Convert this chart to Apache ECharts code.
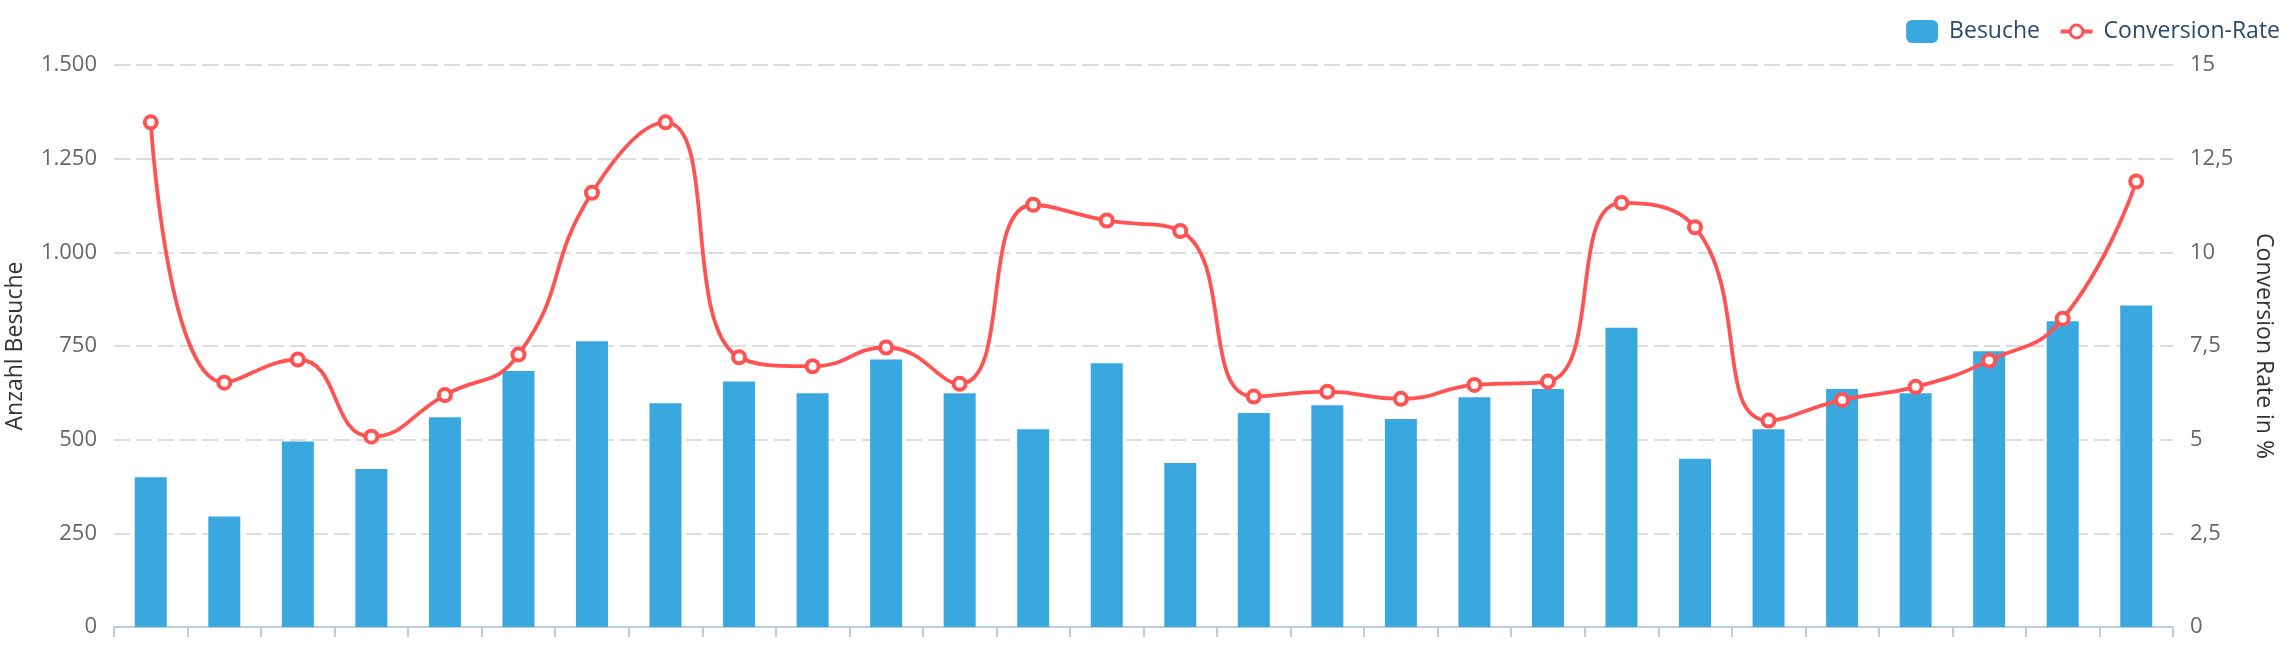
<!DOCTYPE html>
<html>
<head>
<meta charset="utf-8">
<style>
    html, body {margin: 0; padding: 0; background: #fff;}
    #chart {width: 2294px; height: 646px;}
</style>
<script src="https://cdn.jsdelivr.net/npm/echarts@6/dist/echarts.min.js"></script>
</head>
<body>
<div id="chart"></div>
<script>
    // Tage (keine Beschriftung sichtbar)
    const tage = ['1', '2', '3', '4', '5', '6', '7', '8', '9', '10', '11', '12', '13', '14',
        '15', '16', '17', '18', '19', '20', '21', '22', '23', '24', '25', '26', '27', '28'];
    const besuche = [400, 295, 495, 422, 560, 683, 763, 597, 655, 624, 714, 624, 528, 704,
        438, 571, 592, 555, 613, 635, 799, 449, 528, 635, 624, 736, 816, 858];
    const conversionRate = [13.47, 6.52, 7.14, 5.08, 6.19, 7.27, 11.59, 13.47, 7.2, 6.96, 7.46, 6.49, 11.27, 10.85,
        10.57, 6.15, 6.28, 6.09, 6.46, 6.55, 11.32, 10.67, 5.51, 6.06, 6.41, 7.11, 8.23, 11.89];

    const fontFamily = '"Open Sans", sans-serif';
    const legendText = {fontSize: 23, color: '#2b4a6b', fontFamily: fontFamily, padding: [0, 0, 0, 6]};

    //deutsche Zahlenformate
    function fmtBesuche(v) {
        return String(v).replace(/\B(?=(\d{3})+(?!\d))/g, '.');
    }
    function fmtRate(v) {
        return String(v).replace('.', ',');
    }

    let chart = echarts.init(document.getElementById('chart'));
    chart.setOption({
        animation: false,
        textStyle: {fontFamily: fontFamily},
        // zwei Legenden, damit das Balken-Icon groesser sein kann als der Kreis
        legend: [
            {
                right: 249,
                top: 15,
                itemWidth: 32,
                itemHeight: 23,
                textStyle: legendText,
                data: [{name: 'Besuche', icon: 'roundRect'}]
            },
            {
                right: 9,
                top: 15,
                itemWidth: 32,
                itemHeight: 16,
                textStyle: legendText,
                lineStyle: {width: 4},
                itemStyle: {borderWidth: 3},
                data: ['Conversion-Rate']
            }
        ],
        grid: {left: 114, right: 121, top: 65, bottom: 19, outerBoundsMode: 'none'},
        xAxis: {
            type: 'category',
            data: tage,
            axisLine: {lineStyle: {color: '#bccde0', width: 2}},
            axisTick: {show: true, length: 10, lineStyle: {color: '#bccde0', width: 2}},
            axisLabel: {show: false}
        },
        yAxis: [
            {
                type: 'value',
                name: 'Anzahl Besuche',
                nameLocation: 'middle',
                nameGap: 87,
                nameRotate: 90,
                nameTextStyle: {fontSize: 23, color: '#333', fontFamily: fontFamily},
                min: 0,
                max: 1500,
                interval: 250,
                axisLine: {show: false},
                axisTick: {show: false},
                axisLabel: {fontSize: 22, color: '#666', margin: 17, formatter: fmtBesuche, fontFamily: fontFamily},
                splitLine: {lineStyle: {color: '#dcdcdc', width: 2, type: [16, 6]}}
            },
            {
                type: 'value',
                name: 'Conversion Rate in %',
                nameLocation: 'middle',
                nameGap: 79,
                nameRotate: -90,
                nameTextStyle: {fontSize: 23, color: '#333', fontFamily: fontFamily},
                min: 0,
                max: 15,
                interval: 2.5,
                axisLine: {show: false},
                axisTick: {show: false},
                axisLabel: {fontSize: 22, color: '#666', margin: 17, formatter: fmtRate, fontFamily: fontFamily},
                splitLine: {show: false}
            }
        ],
        series: [
            {
                name: 'Besuche',
                type: 'bar',
                data: besuche,
                barWidth: 32,
                itemStyle: {color: '#38a8df'}
            },
            {
                name: 'Conversion-Rate',
                type: 'line',
                yAxisIndex: 1,
                data: conversionRate,
                smooth: true,
                symbol: 'circle',
                symbolSize: 12,
                lineStyle: {color: '#ff5252', width: 3.8},
                itemStyle: {color: '#fff', borderColor: '#ff5252', borderWidth: 4}
            }
        ]
    });
</script>
</body>
</html>
